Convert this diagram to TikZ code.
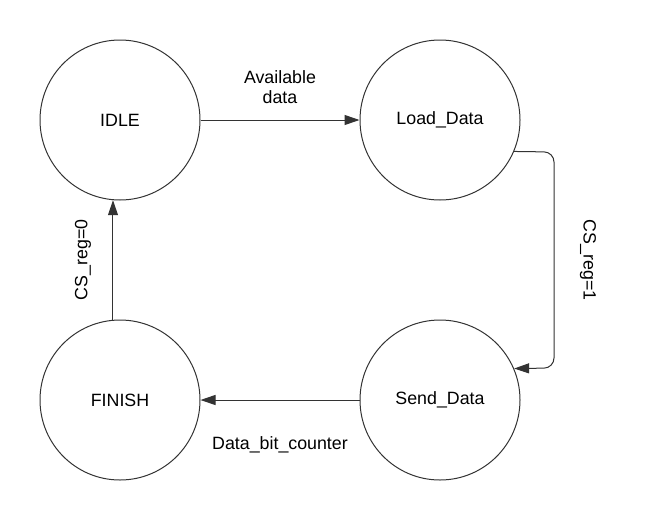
\documentclass[tikz,border=0pt]{standalone}
\usepackage{fontspec}
\setmainfont{Liberation Sans}
\usetikzlibrary{arrows.meta}
\definecolor{ln}{HTML}{333333}
\tikzset{
  state/.style={circle, draw=ln, line width=1pt, minimum size=160pt, inner sep=0pt, font=\fontsize{17.8}{20}\selectfont},
  conn/.style={draw=ln, line width=1pt, -{Triangle[length=15pt,width=10pt]}},
  lbl/.style={font=\fontsize{17.8}{20}\selectfont, align=center, inner sep=0pt}
}
\begin{document}
\begin{tikzpicture}[x=1pt,y=-1pt]
\useasboundingbox (0,0) rectangle (653,520);
\node[state] (IDLE) at (120,120) {IDLE};
\node[state] (Load) at (440,120) {Load\_Data};
\node[state] (Send) at (440,400) {Send\_Data};
\node[state] (FIN) at (120,400) {FINISH};
\coordinate (c1) at (554,152);
\coordinate (c2) at (554,368);
\draw[conn] (IDLE.east) -- (Load.west);
\draw[conn, rounded corners=10pt] (Load.-23.6) -- (c1) -- (c2) -- (Send.23.6);
\draw[conn] (Send.west) -- (FIN.east);
\draw[conn] (FIN.95) -- (IDLE.265);
\node[lbl] (l1) at (280,87) {Available\\data};
\node[lbl, rotate=-90] (l2) at (588,260) {CS\_reg=1};
\node[lbl] (l3) at (280,445) {Data\_bit\_counter};
\node[lbl, rotate=90] (l4) at (83,260) {CS\_reg=0};
\end{tikzpicture}
\end{document}
